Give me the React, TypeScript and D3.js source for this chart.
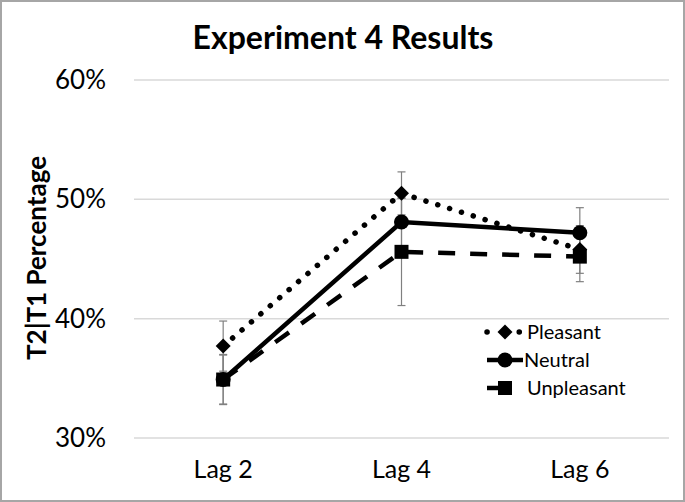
import React from "react";
import * as d3 from "d3";

const categories = ["Lag 2", "Lag 4", "Lag 6"];
const seriesNames = ["Pleasant", "Neutral", "Unpleasant"];
const pleasant = [37.7, 50.5, 45.8];
const neutral = [34.9, 48.1, 47.2];
const unpleasant = [34.9, 45.6, 45.2];
const pleasantErr = [2.1, 1.8, 2.0];
const neutralErr = [2.1, 2.0, 2.1];
const unpleasantErr = [2.05, 4.5, 2.1];
const yTicks = [30, 40, 50, 60];
const title = "Experiment 4 Results";
const yTitle = "T2|T1 Percentage";

const W = 685;
const H = 502;
const FONT = "Lato, 'Open Sans', sans-serif";

type Style = { dash: string; cap: "round" | "butt"; width: number; marker: "diamond" | "circle" | "square" };
const styles: Style[] = [
  { dash: "0.1 12.3", cap: "round", width: 5.5, marker: "diamond" },
  { dash: "none", cap: "butt", width: 4.5, marker: "circle" },
  { dash: "17 15", cap: "butt", width: 4.5, marker: "square" },
];
const legendLineEnd = [521, 523, 508];
const legendTextX = [527, 524, 527];

function Marker({ kind, x, y }: { kind: string; x: number; y: number }) {
  if (kind === "diamond") {
    const s = 7.5;
    return <path d={`M${x},${y - s}L${x + s},${y}L${x},${y + s}L${x - s},${y}Z`} fill="#000" />;
  }
  if (kind === "circle") return <circle cx={x} cy={y} r={7.5} fill="#000" />;
  return <rect x={x - 7} y={y - 7} width={14} height={14} fill="#000" />;
}

export default function App() {
  const x = d3.scalePoint<string>().domain(categories).range([134, 669]).padding(0.5);
  const y = d3.scaleLinear().domain([30, 60]).range([438, 80]);
  const data = [pleasant, neutral, unpleasant];
  const errs = [pleasantErr, neutralErr, unpleasantErr];
  const line = d3
    .line<number>()
    .x((_, i) => x(categories[i])!)
    .y((d) => y(d));

  const legendY = [332, 360, 388];
  return (
    <div style={{ position: "absolute", left: 0, top: 0 }}>
      <svg width={W} height={H} style={{ display: "block", background: "#fff" }}>
        <rect x={1} y={1} width={W - 2} height={H - 2} fill="#fff" stroke="#a6a6a6" strokeWidth={2} />
        <text x={343} y={49} textAnchor="middle" fontFamily={FONT} fontWeight="bold" fontSize={32} fill="#000">
          {title}
        </text>
        {yTicks.map((t) => (
          <g key={t}>
            <line x1={134} x2={669} y1={y(t)} y2={y(t)} stroke="#d9d9d9" strokeWidth={1.5} />
            <text x={106} y={y(t)} dy="0.35em" textAnchor="end" fontFamily={FONT} fontSize={26} fill="#000">
              {t}%
            </text>
          </g>
        ))}
        {categories.map((c) => (
          <text key={c} x={x(c)} y={478} textAnchor="middle" fontFamily={FONT} fontSize={25} fill="#000">
            {c}
          </text>
        ))}
        <text
          transform={`translate(46,258) rotate(-90)`}
          textAnchor="middle"
          fontFamily={FONT}
          fontWeight="bold"
          fontSize={26}
          fill="#000"
        >
          {yTitle}
        </text>
        {data.map((vals, si) =>
          vals.map((v, i) => {
            const cx = x(categories[i])!;
            const e = errs[si][i];
            return (
              <g key={`${si}-${i}`} stroke="#808080" strokeWidth={1.2}>
                <line x1={cx} x2={cx} y1={y(v + e)} y2={y(v - e)} />
                <line x1={cx - 4} x2={cx + 4} y1={y(v + e)} y2={y(v + e)} />
                <line x1={cx - 4} x2={cx + 4} y1={y(v - e)} y2={y(v - e)} />
              </g>
            );
          })
        )}
        {data.map((vals, si) => (
          <path
            key={si}
            d={line(vals)!}
            fill="none"
            stroke="#000"
            strokeWidth={styles[si].width}
            strokeDasharray={styles[si].dash}
            strokeLinecap={styles[si].cap}
          />
        ))}
        {data.map((vals, si) =>
          vals.map((v, i) => <Marker key={`${si}-${i}`} kind={styles[si].marker} x={x(categories[i])!} y={y(v)} />)
        )}
        {seriesNames.map((n, si) => (
          <g key={n}>
            <line
              x1={487}
              x2={legendLineEnd[si]}
              y1={legendY[si]}
              y2={legendY[si]}
              stroke="#000"
              strokeWidth={styles[si].width}
              strokeDasharray={si === 0 ? "0.1 16" : "none"}
              strokeLinecap={styles[si].cap}
            />
            <Marker kind={styles[si].marker} x={505} y={legendY[si]} />
            <text x={legendTextX[si]} y={legendY[si]} dy="0.35em" fontFamily={FONT} fontSize={20} fill="#000">
              {n}
            </text>
          </g>
        ))}
      </svg>
    </div>
  );
}
